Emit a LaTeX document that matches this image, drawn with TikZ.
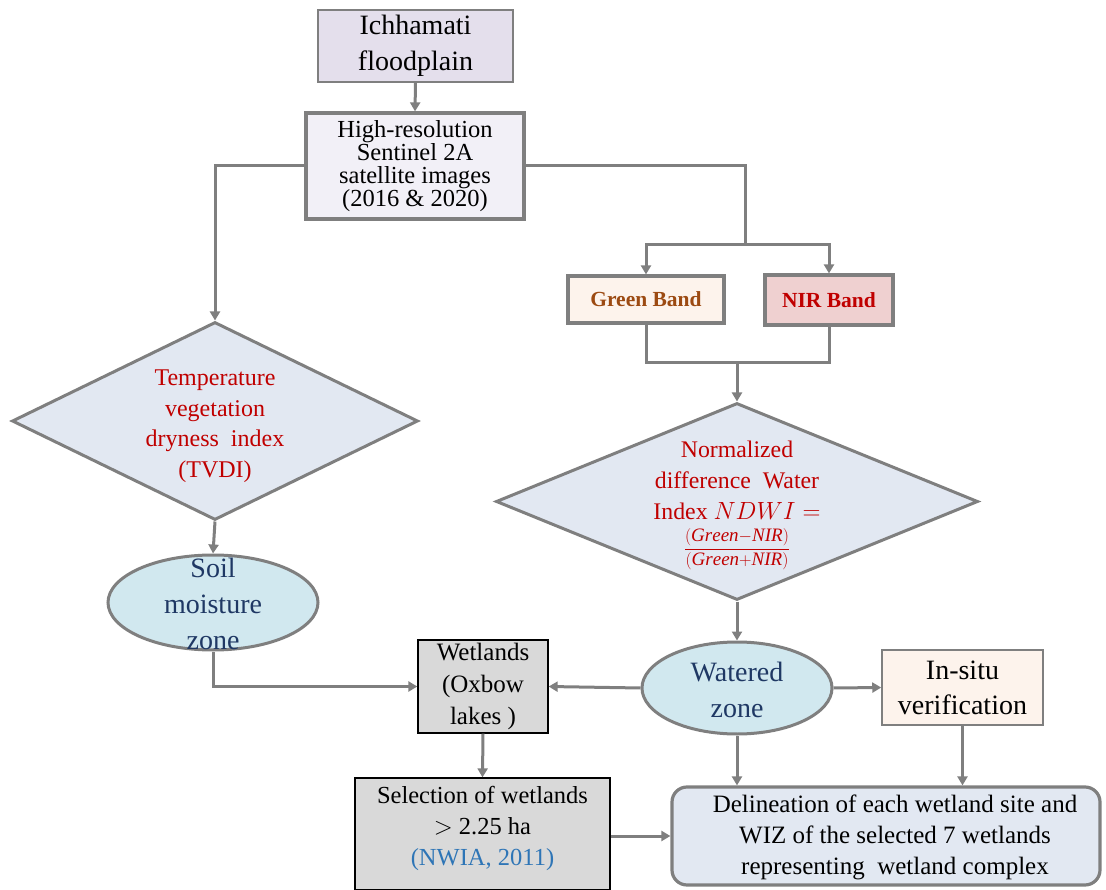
\documentclass[tikz,border=0pt]{standalone}
\usepackage{fontspec}
\setmainfont{Liberation Serif}
\usetikzlibrary{shapes.geometric,arrows.meta}
\definecolor{edge}{HTML}{7F7F7F}
\definecolor{lav}{HTML}{E4DFEC}
\definecolor{lavlight}{HTML}{F2F0F7}
\definecolor{peach}{HTML}{FDF3EC}
\definecolor{pink}{HTML}{EFD0D0}
\definecolor{bluegray}{HTML}{E2E8F2}
\definecolor{skyfill}{HTML}{D1E8EF}
\definecolor{navy}{HTML}{1F3864}
\definecolor{darkred}{HTML}{C00000}
\definecolor{brownish}{HTML}{9C4A12}
\definecolor{greybox}{HTML}{D9D9D9}
\definecolor{refblue}{HTML}{2E75B6}
\tikzset{
  box/.style={draw=edge, line width=1.5pt, inner sep=0pt, align=center},
  thickbox/.style={box, line width=3.2pt},
  greyrect/.style={draw=black, line width=1.3pt, fill=greybox, inner sep=0pt, align=center},
  decision/.style={diamond, draw=edge, line width=3pt, fill=bluegray, inner sep=0pt},
  zone/.style={ellipse, draw=edge, line width=3pt, fill=skyfill, inner sep=0pt},
  txt/.style={inner sep=0pt, align=center},
  link/.style={draw=edge, line width=3pt},
  arr/.style={link, -{Triangle[length=9pt,width=10pt]}},
}
\begin{document}
\begin{tikzpicture}[x=1pt,y=-1pt]
\useasboundingbox (0,0) rectangle (1106,890);
\clip (0,0) rectangle (1106,890);

% top of the chain
\node[box, fill=lav, minimum width=195pt, minimum height=72pt,
      font=\fontsize{28}{36}\selectfont] (ich) at (415.5,46) {Ichhamati\\floodplain};
\node[thickbox, fill=lavlight, minimum width=218pt, minimum height=106pt,
      font=\fontsize{24.5}{23}\selectfont] (hr) at (415,166)
      {High-resolution\\Sentinel 2A\\satellite images\\(2016 \& 2020)};

% spectral bands
\node[thickbox, fill=peach, minimum width=156pt, minimum height=47pt,
      font=\fontsize{21.5}{24}\selectfont\bfseries, text=brownish] (gb) at (646,299.5) {Green Band};
\node[thickbox, fill=pink, minimum width=128pt, minimum height=50pt,
      font=\fontsize{21.5}{24}\selectfont\bfseries, text=darkred] (nir) at (829,300) {NIR Band};

% index computations
\node[decision, minimum width=406pt, minimum height=198pt] (tvdi) at (215,421) {};
\node[txt, text=darkred, font=\fontsize{24}{30.5}\selectfont] (tvditxt) at (215,426)
      {Temperature\\vegetation\\dryness\ \ index\\(TVDI)};
\node[decision, minimum width=482pt, minimum height=197pt] (ndwi) at (737,501.5) {};
\node[txt, text=darkred, font=\fontsize{23.8}{31}\selectfont] (ndwitxt) at (737,505)
      {Normalized\\difference\ \ Water\\Index $NDWI=$\\[3pt]
       {\fontsize{19}{20}\selectfont$\displaystyle\frac{(\mathit{Green}{-}\mathit{NIR})}{(\mathit{Green}{+}\mathit{NIR})}$}};

% zones
\node[zone, minimum width=210pt, minimum height=95pt] (soil) at (213,602.5) {};
\node[txt, text=navy, font=\fontsize{28}{36}\selectfont] (soiltxt) at (213,604) {Soil\\moisture\\zone};
\node[zone, minimum width=190pt, minimum height=92pt] (water) at (737,688) {};
\node[txt, text=navy, font=\fontsize{28}{36}\selectfont] (watertxt) at (737,690) {Watered\\zone};

% outcome boxes
\node[greyrect, minimum width=130pt, minimum height=93pt,
      font=\fontsize{25}{32}\selectfont] (wet) at (483,686.5) {Wetlands\\(Oxbow\\lakes )};
\node[box, fill=peach, minimum width=161pt, minimum height=75pt,
      font=\fontsize{28}{35}\selectfont] (insitu) at (962.5,687.5) {In-situ\\verification};
\node[greyrect, minimum width=255pt, minimum height=112pt] (sel) at (482.5,834) {};
\node[txt, font=\fontsize{24.5}{31}\selectfont] (seltxt) at (482.5,828)
      {Selection of wetlands\\$>$ 2.25 ha\\\textcolor{refblue}{(NWIA, 2011)}};
\node[thickbox, fill=bluegray, rounded corners=15pt, minimum width=428pt, minimum height=98pt] (del) at (886,836) {};
\node[txt, font=\fontsize{25}{31}\selectfont] (deltxt) at (895,837)
      {Delineation of each wetland site and\\WIZ of the selected 7 wetlands\\representing\ \ wetland complex};

% connectors
\coordinate (split) at (745,245);
\coordinate (merge) at (737,363);
\draw[arr] (ich.south) -- (hr.north);
\draw[arr] (hr.west) -| (tvdi.north);
\draw[link] (hr.east) -| (split);
\draw[arr] (split) -| (gb.north);
\draw[arr] (split) -| (nir.north);
\draw[link] (gb.south) |- (merge) -| (nir.south);
\draw[arr] (merge) -- (ndwi.north);
\draw[arr] (tvdi.south) -- (soil.north);
\draw[arr] (soil.south) |- (wet.west);
\draw[arr] (ndwi.south) -- (water.north);
\draw[arr] (water.west) -- (wet.east);
\draw[arr] (water.east) -- (insitu.west);
\draw[arr] (wet.south) -- (sel.north);
\draw[arr] (sel.east |- del.west) -- (del.west);
\draw[arr] (water.south) -- (water.south |- del.north);
\draw[arr] (insitu.south) -- (insitu.south |- del.north);
\end{tikzpicture}
\end{document}
